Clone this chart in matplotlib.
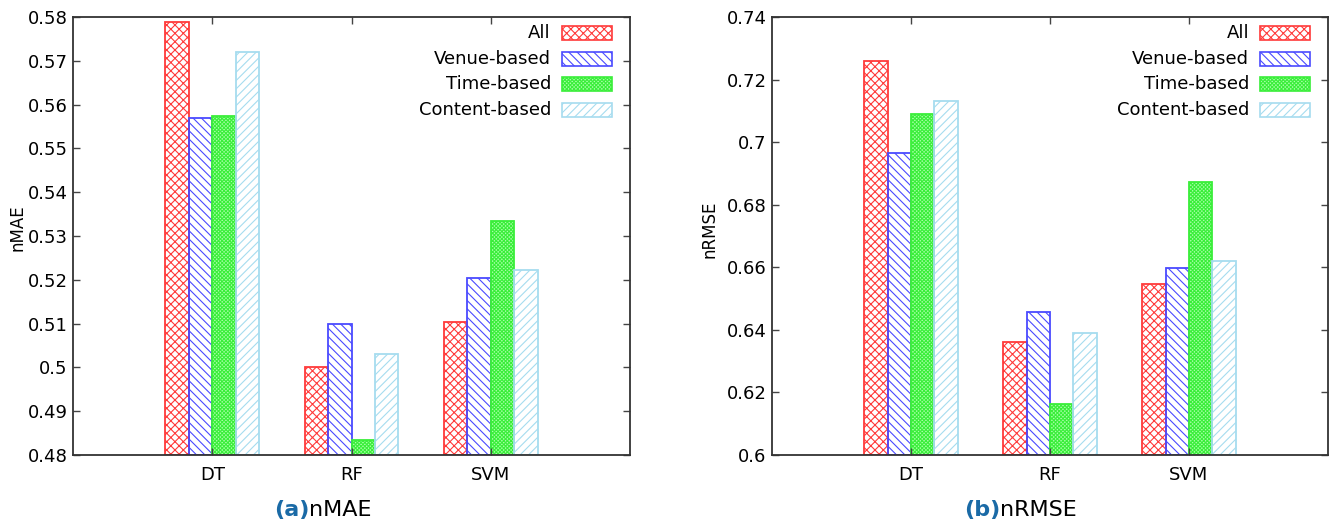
import matplotlib.pyplot as plt
from matplotlib.patches import Rectangle
import numpy as np

plt.rcParams['font.family'] = 'DejaVu Sans'
plt.rcParams['hatch.linewidth'] = 0.8

categories = ['DT', 'RF', 'SVM']
series = ['All', 'Venue-based', 'Time-based', 'Content-based']

nmae_all = [0.5788, 0.5002, 0.5104]
nmae_venue = [0.5570, 0.5100, 0.5203]
nmae_time = [0.5575, 0.4834, 0.5335]
nmae_content = [0.5721, 0.5030, 0.5222]

nrmse_all = [0.7259, 0.6360, 0.6547]
nrmse_venue = [0.6966, 0.6457, 0.6599]
nrmse_time = [0.7089, 0.6164, 0.6872]
nrmse_content = [0.7131, 0.6390, 0.6621]

# (edge colour, face colour, hatch) per series
styles = [
    ('#ff3a3a', 'none', 'xxxx'),
    ('#4a4aff', 'none', '\\\\\\\\'),
    ('#3aee3a', '#a8ffa8', 'xxxxxxxxx'),
    ('#a6dcef', 'none', '////'),
]

W = 1336 / 100
H = 525 / 100
fig = plt.figure(figsize=(W, H), dpi=100)

ax1 = fig.add_axes([73 / 1336, 1 - 455 / 525, 557 / 1336, 438 / 525])
ax2 = fig.add_axes([772 / 1336, 1 - 455 / 525, 556 / 1336, 438 / 525])


def draw(ax, data, ylim, yticks, ylabel, fmt):
    x = np.arange(len(categories))
    bw = 0.168
    for i, vals in enumerate(data):
        ec, fc, hatch = styles[i]
        offs = (i - 1.5) * bw
        ax.bar(x + offs, np.array(vals) - ylim[0], bw, bottom=ylim[0],
               facecolor=fc, edgecolor=ec, hatch=hatch, linewidth=1.3)
    ax.set_xlim(-1, 3)
    ax.set_ylim(*ylim)
    ax.set_xticks(x)
    ax.set_xticklabels(categories)
    ax.set_yticks(yticks)
    ax.set_yticklabels([fmt(v) for v in yticks])
    ax.tick_params(direction='in', length=5, width=1, top=True, right=True,
                   labelsize=13, color='#444444', pad=4)
    ax.tick_params(axis='x', pad=8)
    for s in ax.spines.values():
        s.set_linewidth(1.3)
        s.set_color('#333333')
    ax.set_ylabel(ylabel, fontsize=12)
    # legend, gnuplot style: text right-aligned, sample to the right
    for i, name in enumerate(series):
        ec, fc, hatch = styles[i]
        yc = 0.963 - i * 0.0585
        ax.add_patch(Rectangle((0.878, yc - 0.016), 0.09, 0.032,
                               transform=ax.transAxes, facecolor=fc,
                               edgecolor=ec, hatch=hatch, linewidth=1.2,
                               clip_on=False))
        ax.text(0.858, yc, name, transform=ax.transAxes, ha='right',
                va='center', fontsize=13)


def fmt_trim(v):
    s = '%.2f' % v
    s = s.rstrip('0').rstrip('.') if '.' in s else s
    return s


draw(ax1, [nmae_all, nmae_venue, nmae_time, nmae_content], (0.48, 0.58),
     np.round(np.arange(0.48, 0.5801, 0.01), 2), 'nMAE', fmt_trim)
draw(ax2, [nrmse_all, nrmse_venue, nrmse_time, nrmse_content], (0.6, 0.74),
     np.round(np.arange(0.6, 0.7401, 0.02), 2), 'nRMSE', fmt_trim)

ax1.yaxis.set_label_coords(-0.083, 0.52)
ax2.yaxis.set_label_coords(-0.097, 0.515)

# captions
cap_y = 1 - 510 / 525
fig.text(309 / 1336, cap_y, '(a)', color='#1a6aa6', fontweight='bold',
         fontsize=16, ha='right', va='center')
fig.text(309 / 1336, cap_y, 'nMAE', color='black', fontsize=16,
         ha='left', va='center')
fig.text(1000 / 1336, cap_y, '(b)', color='#1a6aa6', fontweight='bold',
         fontsize=16, ha='right', va='center')
fig.text(1000 / 1336, cap_y, 'nRMSE', color='black', fontsize=16,
         ha='left', va='center')

fig.savefig('out.png', dpi=100)
